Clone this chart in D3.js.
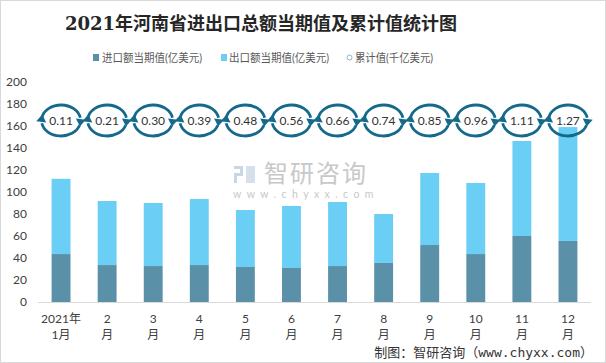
<!DOCTYPE html>
<html>
<head>
<meta charset="utf-8">
<script src="https://cdn.jsdelivr.net/npm/d3@7"></script>
<style>
  body { margin: 0; background: #fff; }
  text { font-family: Lato, "Noto Sans CJK SC", sans-serif; }
</style>
</head>
<body>
<div class="chart-1"></div>
<script>
// data
const months = ["1", "2", "3", "4", "5", "6", "7", "8", "9", "10", "11", "12"];
const tickLine1 = ["2021年", "2", "3", "4", "5", "6", "7", "8", "9", "10", "11", "12"];
const tickLine2 = ["1月", "月", "月", "月", "月", "月", "月", "月", "月", "月", "月", "月"];
const importVals = [43.6, 33.6, 32.7, 33.6, 31.8, 30.9, 32.7, 35.5, 51.8, 43.6, 60.0, 55.5];
const exportVals = [68.4, 58.2, 57.3, 60.0, 51.8, 56.4, 58.2, 44.5, 65.5, 64.6, 86.4, 103.5];
const cumLabels = ["0.11", "0.21", "0.30", "0.39", "0.48", "0.56", "0.66", "0.74", "0.85", "0.96", "1.11", "1.27"];
const cumLevel = 165; // the ring markers sit at one height in the picture
const yTicks = [0, 20, 40, 60, 80, 100, 120, 140, 160, 180, 200];

const W = 606, H = 363;
const importColor = "#5b91a8", exportColor = "#6acef5", ringColor = "#156a8c";

const svg = d3.select(".chart-1")
  .append("svg")
  .attr("width", W)
  .attr("height", H);

// border
svg.append("rect")
  .attr("x", 0.5).attr("y", 0.5)
  .attr("width", W - 1).attr("height", H - 1)
  .attr("fill", "#fff")
  .attr("stroke", "#d9d9d9");

const xScale = d3.scaleBand()
  .domain(months)
  .range([38, 591])
  .paddingInner(0.59)
  .paddingOuter(0.295);

const yScale = d3.scaleLinear()
  .domain([0, 200])
  .range([302, 82]);

// title
svg.append("text")
  .text("2021年河南省进出口总额当期值及累计值统计图")
  .attr("x", 261).attr("y", 30)
  .attr("text-anchor", "middle")
  .attr("font-size", 18)
  .attr("font-weight", "bold")
  .attr("fill", "#262626")
  .style("font-family", "'DejaVu Serif', 'Noto Sans CJK SC', serif");

// legend
const legend = svg.append("g").attr("font-size", 11.5).attr("fill", "#595959");
legend.append("rect").attr("x", 93).attr("y", 54).attr("width", 6).attr("height", 7).attr("fill", importColor);
legend.append("text").text("进口额当期值(亿美元)").attr("x", 102).attr("y", 62).attr("fill", "#595959")
  .attr("textLength", 100).attr("lengthAdjust", "spacingAndGlyphs");
legend.append("rect").attr("x", 221).attr("y", 54).attr("width", 6).attr("height", 7).attr("fill", exportColor);
legend.append("text").text("出口额当期值(亿美元)").attr("x", 229).attr("y", 62).attr("fill", "#595959")
  .attr("textLength", 100).attr("lengthAdjust", "spacingAndGlyphs");
legend.append("circle").attr("cx", 349.5).attr("cy", 57.5).attr("r", 2.5)
  .attr("fill", "#fff").attr("stroke", "#8fb3c6").attr("stroke-width", 1);
legend.append("text").text("累计值(千亿美元)").attr("x", 355).attr("y", 62).attr("fill", "#595959")
  .attr("textLength", 78).attr("lengthAdjust", "spacingAndGlyphs");

// watermark
const wm = svg.append("g").attr("fill", "#c4c4c4");
wm.append("rect").attr("x", 234).attr("y", 166).attr("width", 9).attr("height", 3).attr("fill", "#c9d6e3");
wm.append("rect").attr("x", 240).attr("y", 166).attr("width", 3).attr("height", 9).attr("fill", "#c9d6e3");
wm.append("rect").attr("x", 234).attr("y", 173).attr("width", 9).attr("height", 3).attr("fill", "#c9d6e3");
wm.append("rect").attr("x", 234).attr("y", 173).attr("width", 3).attr("height", 10).attr("fill", "#c9d6e3");
wm.append("rect").attr("x", 246).attr("y", 166).attr("width", 9).attr("height", 17).attr("fill", "#d5e0ea");
wm.append("text").text("智研咨询").attr("x", 264).attr("y", 182)
  .attr("font-size", 24).attr("fill", "#c8c8c8").attr("letter-spacing", 2);
wm.append("text").text("www.chyxx.com").attr("x", 233).attr("y", 198)
  .attr("font-size", 10.5).attr("fill", "#c8c8c8").attr("letter-spacing", 5.4);

// y axis labels
svg.append("g").selectAll("text")
  .data(yTicks)
  .join("text")
  .text(d => d)
  .attr("x", 27)
  .attr("y", d => yScale(d))
  .attr("dy", "0.35em")
  .attr("text-anchor", "end")
  .attr("font-size", 12)
  .attr("fill", "#404040");

// stacked bars
const bars = svg.append("g").selectAll("g.bar")
  .data(months)
  .join("g")
  .attr("class", "bar")
  .attr("transform", d => `translate(${xScale(d)},0)`);

bars.append("rect")
  .attr("y", (d, i) => yScale(importVals[i]))
  .attr("width", xScale.bandwidth())
  .attr("height", (d, i) => yScale(0) - yScale(importVals[i]))
  .attr("fill", importColor);

bars.append("rect")
  .attr("y", (d, i) => yScale(importVals[i] + exportVals[i]))
  .attr("width", xScale.bandwidth())
  .attr("height", (d, i) => yScale(importVals[i]) - yScale(importVals[i] + exportVals[i]))
  .attr("fill", exportColor);

// x axis line
svg.append("line")
  .attr("x1", 38).attr("x2", 591)
  .attr("y1", yScale(0) + 0.5).attr("y2", yScale(0) + 0.5)
  .attr("stroke", "#d9d9d9");

// x labels (two lines)
const xl = svg.append("g").selectAll("g")
  .data(months)
  .join("g")
  .attr("transform", d => `translate(${xScale(d) + xScale.bandwidth() / 2},0)`)
  .attr("font-size", 12)
  .attr("fill", "#404040");
xl.append("text").text((d, i) => tickLine1[i]).attr("y", 323).attr("text-anchor", "middle").attr("fill", "#404040");
xl.append("text").text((d, i) => tickLine2[i]).attr("y", 339).attr("text-anchor", "middle").attr("fill", "#404040");

// ring arrows for the cumulative values
const rx = 19.5, ry = 15.5;
const pt = a => [rx * Math.cos(a * Math.PI / 180), ry * Math.sin(a * Math.PI / 180)];

function arcPath(a0, a1) {
  const p0 = pt(a0), p1 = pt(a1);
  return `M${p0[0]},${p0[1]} A${rx},${ry} 0 0 1 ${p1[0]},${p1[1]}`;
}
function headPath(a) {
  // arrowhead at angle a pointing clockwise along the ellipse
  const p = pt(a);
  const r = a * Math.PI / 180;
  let tx = -rx * Math.sin(r), ty = ry * Math.cos(r);
  const len = Math.hypot(tx, ty); tx /= len; ty /= len;
  const nx = -ty, ny = tx;
  const L = 7.5, Wd = 5;
  const tip = [p[0] + tx * L * 0.6, p[1] + ty * L * 0.6];
  const b1 = [p[0] - tx * L * 0.4 + nx * Wd, p[1] - ty * L * 0.4 + ny * Wd];
  const b2 = [p[0] - tx * L * 0.4 - nx * Wd, p[1] - ty * L * 0.4 - ny * Wd];
  return `M${tip[0]},${tip[1]} L${b1[0]},${b1[1]} L${b2[0]},${b2[1]} Z`;
}

const rings = svg.append("g").selectAll("g.ring")
  .data(months)
  .join("g")
  .attr("class", "ring")
  .attr("transform", d => `translate(${xScale(d) + xScale.bandwidth() / 2},${yScale(cumLevel)})`);

rings.append("path").attr("d", arcPath(192, 350))
  .attr("fill", "none").attr("stroke", ringColor).attr("stroke-width", 2.8);
rings.append("path").attr("d", headPath(6)).attr("fill", ringColor);
rings.append("path").attr("d", arcPath(18, 170))
  .attr("fill", "none").attr("stroke", ringColor).attr("stroke-width", 2.8);
rings.append("path").attr("d", headPath(186)).attr("fill", ringColor);

rings.append("text")
  .text((d, i) => cumLabels[i])
  .attr("y", 0)
  .attr("dy", "0.35em")
  .attr("text-anchor", "middle")
  .attr("font-size", 12)
  .attr("fill", "#333");

// footer
svg.append("text")
  .text("制图：智研咨询（www.chyxx.com）")
  .attr("x", 593).attr("y", 357)
  .attr("text-anchor", "end")
  .attr("font-size", 13)
  .attr("fill", "#333")
  .style("font-family", "'DejaVu Sans Mono', 'Noto Sans CJK SC', monospace");
</script>
</body>
</html>
